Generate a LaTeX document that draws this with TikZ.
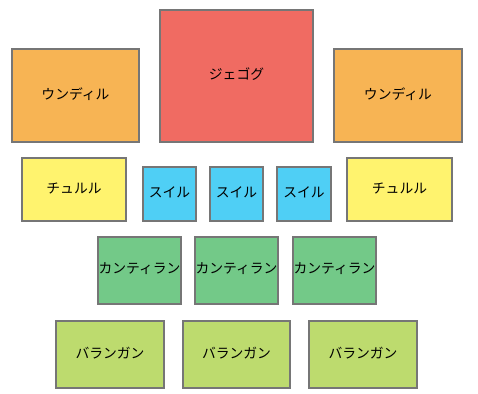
\documentclass[tikz,border=0pt]{standalone}
\usepackage{fontspec}
\newfontfamily\jp{Noto Sans CJK JP}
\definecolor{cred}{HTML}{F06B62}
\definecolor{corange}{HTML}{F7B454}
\definecolor{cyellow}{HTML}{FFF36E}
\definecolor{cblue}{HTML}{4FCFF5}
\definecolor{cgreen}{HTML}{73C988}
\definecolor{clgreen}{HTML}{BDDB6E}
\definecolor{cborder}{HTML}{767676}
\begin{document}
\begin{tikzpicture}[x=1pt,y=-1pt,
  box/.style={draw=cborder,line width=1.5pt,inner sep=0pt},
  lbl/.style={font=\jp\fontsize{13.8}{16}\selectfont,text=black,inner sep=0pt,yshift=1.5pt},
]
\useasboundingbox (0,0) rectangle (478,393);
\newcommand\mkbox[6]{% name, x1,y1,x2,y2, style
  \node[box,#6,minimum width={#4-#2},minimum height={#5-#3}] (#1) at ({(#2+#4)/2},{(#3+#5)/2}) {};}
\mkbox{red}{160}{10}{313}{142}{fill=cred}
\node[lbl] at (red) {ジェゴグ};
\mkbox{ol}{12}{49}{139}{142}{fill=corange}
\node[lbl] at (ol) {ウンディル};
\mkbox{or}{334}{49}{462}{142}{fill=corange}
\node[lbl] at (or) {ウンディル};
\mkbox{yl}{22}{158}{126}{221}{fill=cyellow}
\node[lbl] at (yl) {チュルル};
\mkbox{yr}{347}{158}{452}{221}{fill=cyellow}
\node[lbl] at (yr) {チュルル};
\mkbox{b1}{143}{167}{196}{221}{fill=cblue}
\node[lbl] at (b1) {スイル};
\mkbox{b2}{210}{167}{263}{221}{fill=cblue}
\node[lbl] at (b2) {スイル};
\mkbox{b3}{277}{167}{331}{221}{fill=cblue}
\node[lbl] at (b3) {スイル};
\mkbox{g1}{98}{237}{181}{304}{fill=cgreen}
\node[lbl] at (g1) {カンティラン};
\mkbox{g2}{195}{237}{278}{304}{fill=cgreen}
\node[lbl] at (g2) {カンティラン};
\mkbox{g3}{293}{237}{376}{304}{fill=cgreen}
\node[lbl] at (g3) {カンティラン};
\mkbox{l1}{56}{321}{164}{388}{fill=clgreen}
\node[lbl] at (l1) {バランガン};
\mkbox{l2}{183}{321}{290}{388}{fill=clgreen}
\node[lbl] at (l2) {バランガン};
\mkbox{l3}{309}{321}{417}{388}{fill=clgreen}
\node[lbl] at (l3) {バランガン};
\end{tikzpicture}
\end{document}
